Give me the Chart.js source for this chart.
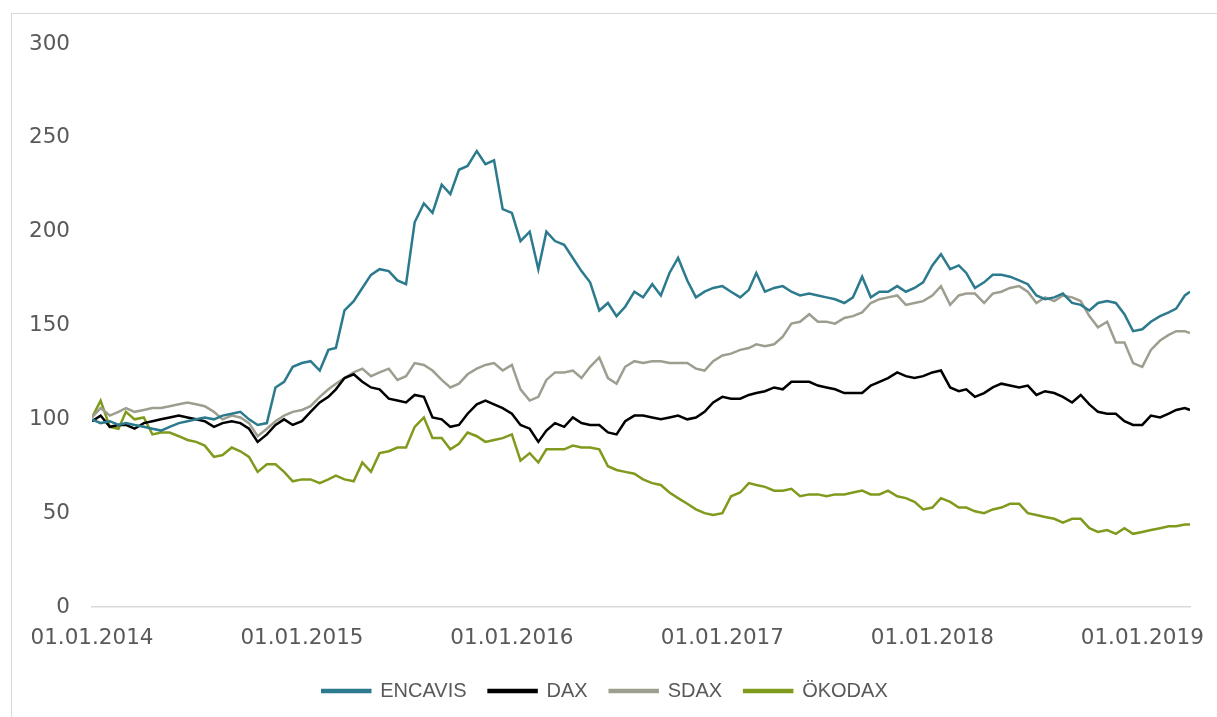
<!DOCTYPE html>
<html>
<head>
<meta charset="utf-8">
<script src="https://cdn.jsdelivr.net/npm/chart.js@4.4.1/dist/chart.umd.min.js"></script>
<style>
  html, body { margin: 0; padding: 0; background: #fff; }
  body { width: 1217px; height: 717px; overflow: hidden; position: relative; }
  .frame { position: absolute; left: 11px; top: 13px; width: 1240px; height: 740px; border: 1px solid #d9d9d9; box-sizing: border-box; }
  .chart-box { position: absolute; left: 0; top: 0; width: 1217px; height: 717px; }
</style>
</head>
<body>
<div class="frame"></div>
<div class="chart-box"><canvas id="perfChart"></canvas></div>
<script>
// semi-monthly sample dates (1st and 16th), Jan 2014 .. Mar 2019
const dates = [];
for (let y = 2014; y <= 2019; y++) {
  for (let m = 1; m <= 12; m++) {
    if (y === 2019 && m > 3) break;
    dates.push(y + '-' + String(m).padStart(2, '0') + '-01');
    dates.push(y + '-' + String(m).padStart(2, '0') + '-16');
  }
}
dates.push('2019-03-25');

const yearTicks = ['01.01.2014', '01.01.2015', '01.01.2016', '01.01.2017', '01.01.2018', '01.01.2019'];

const encavis = [100,98,99,97,98,97,96,95,94,96, 98,99,100,101,100,102,103,104,100,97,
  98,117,120,128,130,131,126,137,138,158, 163,170,177,180,179,174,172,205,215,210,
  225,220,233,235,243,236,238,212,210,195, 200,180,200,195,193,186,179,173,158,162,
  155,160,168,165,172,166,178,186,174,165, 168,170,171,168,165,169,178,168,170,171,
  168,166,167,166,165,164,162,165,176,165, 168,168,171,168,170,173,182,188,180,182,
  178,170,173,177,177,176,174,172,166,164, 165,167,162,161,158,162,163,162,156,147,
  148,152,155,157,159,166,168];

const dax = [99,102,96,97,97,95,98,99,100,101, 102,101,100,99,96,98,99,98,95,88,
  92,97,100,97,99,104,109,112,116,122, 124,120,117,116,111,110,109,113,112,101,
  100,96,97,103,108,110,108,106,103,97, 95,88,94,98,96,101,98,97,97,93,
  92,99,102,102,101,100,101,102,100,101, 104,109,112,111,111,113,114,115,117,116,
  120,120,120,118,117,116,114,114,114,118, 120,122,125,123,122,123,125,126,117,115,
  116,112,114,117,119,118,117,118,113,115, 114,112,109,113,108,104,103,103,99,97,
  97,102,101,103,105,106,105];

const sdax = [101,106,102,104,106,104,105,106,106,107, 108,109,108,107,104,100,102,101,98,91,
  95,99,102,104,105,107,112,116,119,122, 125,127,123,125,127,121,123,130,129,126,
  121,117,119,124,127,129,130,126,129,116, 110,112,121,125,125,126,122,128,133,122,
  119,128,131,130,131,131,130,130,130,127, 126,131,134,135,137,138,140,139,140,144,
  151,152,156,152,152,151,154,155,157,162, 164,165,166,161,162,163,166,171,161,166,
  167,167,162,167,168,170,171,168,162,165, 163,166,165,163,155,149,152,141,141,130,
  128,137,142,145,147,147,146];

const oekodax = [101,110,96,95,104,100,101,92,93,93, 91,89,88,86,80,81,85,83,80,72,
  76,76,72,67,68,68,66,68,70,68, 67,77,72,82,83,85,85,96,101,90,
  90,84,87,93,91,88,89,90,92,78, 82,77,84,84,84,86,85,85,84,75,
  73,72,71,68,66,65,61,58,55,52, 50,49,50,59,61,66,65,64,62,62,
  63,59,60,60,59,60,60,61,62,60, 60,62,59,58,56,52,53,58,56,53,
  53,51,50,52,53,55,55,50,49,48, 47,45,47,47,42,40,41,39,42,39,
  40,41,42,43,43,44,44];

const DAY = 86400000;
const base = Date.UTC(2014, 0, 1);
const toDay = (s) => {
  const p = s.split('-').map(Number);
  return (Date.UTC(p[0], p[1] - 1, p[2]) - base) / DAY;
};
const dayOfTick = (lbl) => {
  const p = lbl.split('.').map(Number);
  return (Date.UTC(p[2], p[1] - 1, p[0]) - base) / DAY;
};
const xs = dates.map(toDay);
const tickDays = yearTicks.map(dayOfTick);
const pts = (vals) => vals.map((v, i) => ({ x: xs[i], y: v }));

const series = [
  { label: 'ENCAVIS', data: encavis, color: '#2b7a8d' },
  { label: 'DAX', data: dax, color: '#000000' },
  { label: 'SDAX', data: sdax, color: '#9e9e90' },
  { label: 'ÖKODAX', data: oekodax, color: '#7f9a1c' }
];

const tickFont = { family: 'DejaVu Sans', size: 21.5 };

const ctx = document.getElementById('perfChart').getContext('2d');
new Chart(ctx, {
  type: 'line',
  data: {
    datasets: series.map(s => ({
      label: s.label,
      data: pts(s.data),
      borderColor: s.color,
      backgroundColor: s.color,
      borderWidth: 2.5,
      pointRadius: 0,
      tension: 0
    }))
  },
  options: {
    responsive: true,
    maintainAspectRatio: false,
    animation: false,
    layout: { padding: { left: 20, right: 27, top: 44, bottom: 6 } },
    plugins: {
      tooltip: { enabled: false },
      legend: {
        position: 'bottom',
        labels: {
          boxWidth: 48,
          boxHeight: 2,
          padding: 22,
          color: '#595959',
          font: { family: 'Liberation Sans', size: 20 }
        }
      }
    },
    scales: {
      x: {
        type: 'linear',
        min: 0,
        max: xs[xs.length - 1],
        afterBuildTicks: (scale) => { scale.ticks = tickDays.map(v => ({ value: v })); },
        afterFit: (scale) => { scale.height = 52; },
        grid: { display: false },
        border: { display: true, color: '#d9d9d9', width: 1.5 },
        ticks: {
          padding: 11,
          maxRotation: 0,
          autoSkip: false,
          color: '#595959',
          font: tickFont,
          callback: (v) => {
            const i = tickDays.indexOf(v);
            return i >= 0 ? yearTicks[i] : '';
          }
        }
      },
      y: {
        min: 0,
        max: 300,
        afterFit: (scale) => { scale.width = 72; },
        grid: { display: false },
        border: { display: false },
        ticks: {
          stepSize: 50,
          padding: 14,
          color: '#595959',
          font: tickFont
        }
      }
    }
  }
});
</script>
</body>
</html>
